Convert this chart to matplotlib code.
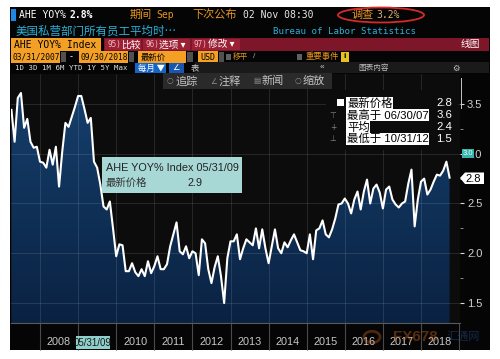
import numpy as np
import pandas as pd
import matplotlib
matplotlib.use('Agg')
import matplotlib.pyplot as plt
from matplotlib.patches import Rectangle, Ellipse, Polygon, Circle
from matplotlib.lines import Line2D
from matplotlib.colors import LinearSegmentedColormap

# AHE YOY% Index, monthly (month-end), 03/2007 - 09/2018
ahe_yoy = [3.44, 3.12, 3.56, 3.61, 3.26, 3.35, 3.12, 3.06, 3.07, 2.92,              # 2007
           2.91, 2.86, 3.04, 2.89, 3.07, 2.67, 3.02, 3.31, 3.27, 3.37, 3.47, 3.58,  # 2008
           3.58, 3.45, 3.31, 3.36, 2.92, 2.86, 2.69, 2.47, 2.44, 2.52, 2.25, 1.97,  # 2009
           2.09, 2.08, 1.82, 1.82, 1.90, 1.81, 1.77, 1.84, 1.77, 1.92, 1.80, 1.87,  # 2010
           1.97, 1.84, 1.84, 1.89, 2.07, 2.19, 2.31, 2.02, 1.99, 2.07, 1.95, 2.02,  # 2011
           2.00, 1.78, 2.14, 2.10, 1.84, 1.70, 1.86, 1.97, 1.77, 1.50, 1.95, 2.12,  # 2012
           2.12, 2.19, 1.94, 2.05, 2.14, 2.11, 2.08, 2.25, 2.05, 2.24, 2.05, 1.90,  # 2013
           2.07, 2.24, 2.05, 2.00, 2.11, 2.06, 2.13, 2.19, 2.11, 2.03, 2.02, 2.00,  # 2014
           2.19, 1.94, 2.23, 2.25, 2.33, 2.19, 2.16, 2.24, 2.35, 2.49, 2.50, 2.55,  # 2015
           2.50, 2.40, 2.54, 2.62, 2.44, 2.62, 2.74, 2.50, 2.65, 2.69, 2.61, 2.45,  # 2016
           2.64, 2.67, 2.54, 2.49, 2.46, 2.50, 2.52, 2.70, 2.84, 2.27, 2.54, 2.72,  # 2017
           2.75, 2.59, 2.64, 2.72, 2.79, 2.78, 2.83, 2.92, 2.76]                    # 2018
dates = pd.date_range('2007-03-31', periods=len(ahe_yoy), freq='ME')
years = list(range(2008, 2019))
yticks = [1.5, 2.0, 2.5, 3.0, 3.5]
yticks_minor = [1.75, 2.25, 2.75, 3.25]
legend_labels = ['最新价格', '最高于 06/30/07', '平均', '最低于 10/31/12']
legend_values = ['2.8', '3.6', '2.4', '1.5']

SANS = ['Liberation Sans', 'Noto Sans CJK SC', 'DejaVu Sans']
MONO = ['DejaVu Sans Mono', 'Noto Sans CJK SC']
CJK = ['Noto Sans CJK SC', 'DejaVu Sans']
plt.rcParams['font.family'] = SANS

ORANGE = '#f4a024'
ORTXT = '#e8961e'

W, H = 500, 359
fig = plt.figure(figsize=(5, 3.59), dpi=100, facecolor='white')


def box(x0, y0, x1, y1, color, z=1):
    fig.add_artist(Rectangle((x0 / W, 1 - y1 / H), (x1 - x0) / W, (y1 - y0) / H,
                             transform=fig.transFigure, facecolor=color,
                             edgecolor='none', zorder=z))


def txt(x, y, s, color='white', size=7, fam=SANS, ha='left', **kw):
    fig.text(x / W, 1 - y / H, s, color=color, fontsize=size, family=fam,
             ha=ha, va='center', **kw)


# black terminal panel
box(10, 7, 490, 350, '#050505', z=-1)

# ---- chart ----
ax = fig.add_axes([11 / W, 1 - 323 / H, 449 / W, 249 / H])
ax.set_facecolor('#0c0c0c')
t = dates.year + dates.month / 12
v = np.array(ahe_yoy)
x0, x1 = 2007.2388, 2019.0236
y0, y1 = 1.2995, 3.8008

# gradient fill under the line
grad = np.linspace(1, 0, 256).reshape(-1, 1)
cmap = LinearSegmentedColormap.from_list('navy', ['#0a2242', '#16416f'])
im = ax.imshow(grad, extent=[t[0], t[-1], y0, y1], aspect='auto', cmap=cmap, zorder=1)
poly = ax.fill_between(t, v, y0, facecolor='none', edgecolor='none')
im.set_clip_path(poly.get_paths()[0], transform=ax.transData)

for y in yticks:
    ax.axhline(y, color='white', alpha=0.13, lw=0.6, zorder=2)
for yr in years:
    ax.axvline(yr, color='white', alpha=0.13, lw=0.6, zorder=2)
ax.plot(t, v, color='white', lw=1.5, zorder=3)

ax.set_xlim(x0, x1)
ax.set_ylim(y0, y1)
for s in ['left', 'top', 'right']:
    ax.spines[s].set_visible(False)
ax.spines['bottom'].set_color('#5a5a5a')
ax.spines['bottom'].set_linewidth(0.8)
ax.set_xticks([])
ax.yaxis.tick_right()
ax.set_yticks(yticks)
ax.set_yticklabels([f'{y:.1f}' for y in yticks])
ax.set_yticks(yticks_minor, minor=True)
ax.tick_params(axis='y', which='major', direction='out', length=3, width=0.8,
               color='#d8d8d8', labelcolor='#d0d0d0', labelsize=8, pad=2)
ax.tick_params(axis='y', which='minor', direction='out', length=2, width=0.6,
               color='#a0a0a0')
# short axis stub at the top right
fig.add_artist(Line2D([461 / W, 461 / W], [1 - 78 / H, 1 - 108 / H], transform=fig.transFigure,
                      color='#c8c8c8', lw=0.7, zorder=2))

# year band under the chart (2009 sits under the cursor date box)
xt = ax.get_xaxis_transform()
ax.vlines(years + [2019], -0.108, 0, transform=xt, colors='#4a4a4a', lw=0.8, clip_on=False)
for yr in years:
    if yr == 2009:
        continue
    ax.text(yr + 0.5, -0.076, str(yr), transform=xt, ha='center', va='center',
            color='#c8c8c8', fontsize=7.8, clip_on=False)

# ---- header rows ----
box(11, 9, 16, 21, '#1e88e5')
txt(19, 15, 'AHE YOY%', size=7, fam=MONO)
txt(69, 15, '2.8%', size=7, fam=MONO, weight='bold')
txt(130, 15, '期间', ORTXT, size=8, fam=CJK)
txt(156, 15, 'Sep', ORTXT, size=7, fam=MONO)
txt(192, 15, '下次公布', ORTXT, size=8, fam=CJK)
txt(243, 15, '02 Nov 08:30', '#e8e8e8', size=7, fam=MONO)
txt(352, 15, '调查', ORTXT, size=8, fam=CJK)
txt(376, 15, '3.2%', '#e0b070', size=7, fam=MONO)
fig.add_artist(Ellipse((381 / W, 1 - 15 / H), 86 / W, 15 / H, transform=fig.transFigure,
                       fill=False, edgecolor='#d42a2a', lw=1.3, zorder=4))

txt(16, 31, '美国私营部门所有员工平均时…', '#2ab0d6', size=8.3, fam=CJK)
txt(273, 31, 'Bureau of Labor Statistics', '#2ab0d6', size=6.6, fam=MONO)

box(11, 38, 101, 51, ORANGE)
txt(14, 44.5, 'AHE YOY% Index', 'black', size=7, fam=MONO)
box(104, 38, 489, 51, '#7d1628')
for (a, b), num, lab in zip([(105, 141), (143, 190), (192, 240)],
                            ['95)', '96)', '97)'], ['比较', '选项 ▾', '修改 ▾']):
    box(a, 39, b, 50, '#9b2035')
    txt(a + 2, 44.5, num, '#f2b8c0', size=5.5, fam=MONO)
    txt(a + 16, 44.5, lab, 'white', size=7, fam=CJK)
txt(461, 44.5, '线图', 'white', size=7, fam=CJK)

box(11, 51, 60, 63, ORANGE)
txt(12.5, 57, '03/31/2007', 'black', size=5.7, fam=MONO)
box(61, 52, 66, 62, '#505050')
txt(69, 57, '-', 'white', size=6, fam=MONO)
box(79, 51, 128, 63, ORANGE)
txt(80.5, 57, '09/30/2018', 'black', size=5.7, fam=MONO)
box(129, 52, 134, 62, '#505050')
box(138, 51, 186, 63, ORANGE)
txt(141, 57, '最新价', 'black', size=6, fam=CJK)
box(187, 52, 193, 62, '#505050')
box(198, 51, 218, 63, ORANGE)
txt(200, 57, 'USD', 'black', size=6, fam=MONO)
box(219, 52, 224, 62, '#505050')
box(226, 54, 231, 60, '#606060')
txt(233, 57, '移平', ORTXT, size=5.5, fam=CJK)
txt(253, 57, '/', '#a0a0a0', size=6)
box(297, 54, 302, 60, '#606060')
txt(306, 57, '重要事件', ORTXT, size=6, fam=CJK)
box(341, 52, 349, 62, '#e8c020')
txt(345, 57, 'i', 'black', size=6, ha='center', weight='bold')

box(195, 62, 489, 73, '#1a1a1a')
txt(15, 68, '1D 3D 1M 6M YTD 1Y 5Y Max', '#e0e0e0', size=5.3, fam=MONO)
box(135, 63, 166, 73, '#1565c8')
txt(138, 68, '每月 ▼', 'white', size=6, fam=CJK)
box(169, 63, 184, 73, '#1a56b0')
txt(176.5, 68, '∠', 'white', size=6, ha='center', fam=['DejaVu Sans'])
txt(191, 68, '表', '#d0d0d0', size=6, fam=CJK)
txt(320, 68, '«', '#d0d0d0', size=6)
txt(358, 68, '图表内容', '#c0c0c0', size=5.5, fam=CJK)
txt(452, 68, '⚙', '#c0c0c0', size=6, fam=['DejaVu Sans'])

# chart toolbar
box(163, 73, 332, 89, '#2a2a2a', z=2)
for ix, icon, lx, lab in [(167, '○', 175, '追踪'), (210, '∠', 219, '注释'),
                          (253, '▤', 262, '新闻'), (295, '○', 303, '缩放')]:
    txt(ix, 81, icon, '#8a8a8a', size=5.5, fam=['DejaVu Sans'])
    txt(lx, 81, lab, '#c4c4c4', size=8, fam=CJK)

# legend box
box(326, 90, 458, 150, '#0c0c0c', z=2)
box(337, 99, 344, 106, 'white', z=3)
for yy, mk in zip([115, 127, 139], ['⊤', '+', '⊥']):
    txt(333, yy, mk, '#808080', size=5.5, ha='center', fam=['DejaVu Sans'])
for yy, lab, val in zip([103, 115, 127, 139], legend_labels, legend_values):
    txt(347, yy, lab, 'black', size=8.2,
        bbox=dict(facecolor='white', edgecolor='none', pad=0.4))
    txt(452, yy, val, 'white', size=8.2, ha='right')

# tooltip
box(102, 157, 242, 193, '#a8d8d5', z=2)
txt(106, 168, 'AHE YOY% Index 05/31/09', '#222222', size=7.8)
txt(106, 183, '最新价格', '#333333', size=7.5, fam=CJK)
txt(188, 183, '2.9', '#222222', size=7.8)

# cursor date on the axis
box(76, 336, 110, 349, '#8fd0cc', z=2)
txt(93, 342.5, '05/31/09', '#1a1a1a', size=7, ha='center')

# survey marker and last value tag on the y axis
box(462, 149, 474, 158, '#36b4ac', z=2)
txt(468, 153.5, '3.0', '#e6ffff', size=5.5, ha='center')
tag = [(460, 178), (465, 172.5), (484, 172.5), (484, 184), (465, 184)]
fig.add_artist(Polygon([(a / W, 1 - b / H) for a, b in tag], closed=True,
                       transform=fig.transFigure, facecolor='white', edgecolor='none', zorder=2))
txt(473, 178.5, '2.8', 'black', size=8, ha='center')

# watermark
fig.add_artist(Circle((372 / W, 1 - 337 / H), 8 / W, transform=fig.transFigure,
                      fill=False, edgecolor='#d2691e', alpha=0.35, lw=2, zorder=2))
txt(415, 337, 'FX678', '#d2691e', size=11, ha='center', weight='bold', alpha=0.4)
txt(463, 337, '汇通网', '#3060b0', size=8, ha='center', fam=CJK, alpha=0.4)

fig.savefig('out.png', dpi=100, facecolor='white')
